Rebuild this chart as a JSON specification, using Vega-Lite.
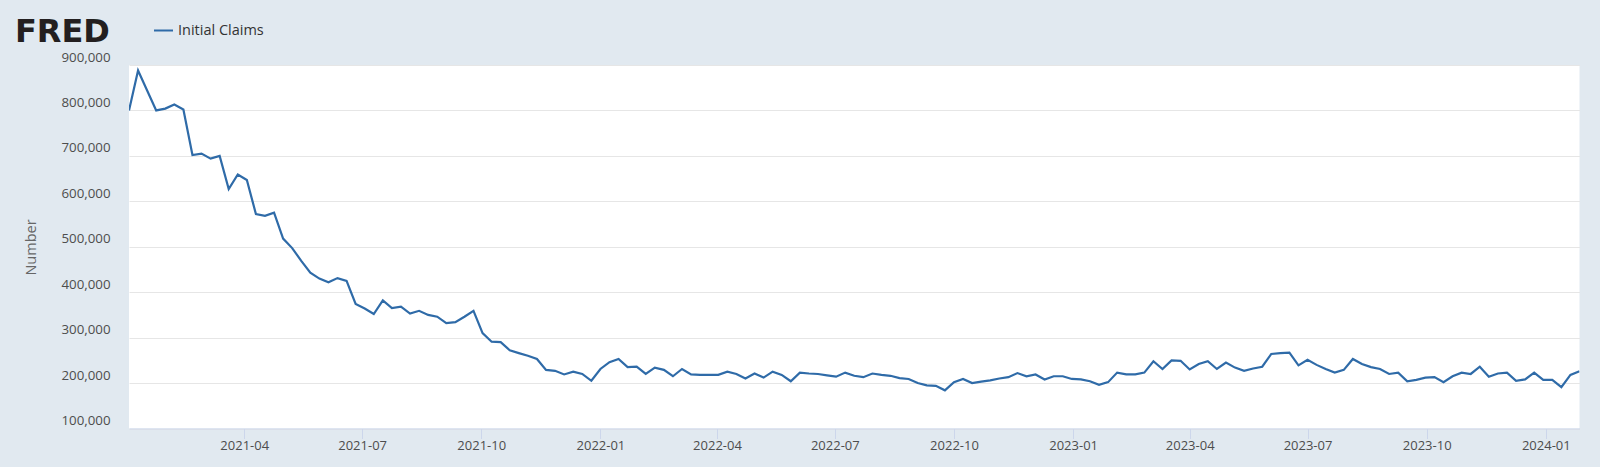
{"$schema":"https://vega.github.io/schema/vega-lite/v6.json","width":1450.5,"height":363.5,"autosize":{"type":"none"},"padding":{"left":129,"top":65,"right":20.5,"bottom":38.5},"background":"#e1e9f0","view":{"fill":"#ffffff","stroke":null},
"title":{"text":"FRED","anchor":"start","frame":"group","dx":-114,"offset":-29,"font":"DejaVu Sans","fontSize":32,"fontWeight":"bold","color":"#231f20"},
"data":{"values":[
{"date":"2021-01-02","claims":800000},{"date":"2021-01-09","claims":888000},{"date":"2021-01-16","claims":844000},{"date":"2021-01-23","claims":800000},{"date":"2021-01-30","claims":804000},
{"date":"2021-02-06","claims":813000},{"date":"2021-02-13","claims":802000},{"date":"2021-02-20","claims":702000},{"date":"2021-02-27","claims":705000},
{"date":"2021-03-06","claims":694000},{"date":"2021-03-13","claims":700000},{"date":"2021-03-20","claims":627000},{"date":"2021-03-27","claims":659000},
{"date":"2021-04-03","claims":647000},{"date":"2021-04-10","claims":572000},{"date":"2021-04-17","claims":568000},{"date":"2021-04-24","claims":575000},
{"date":"2021-05-01","claims":518000},{"date":"2021-05-08","claims":497000},{"date":"2021-05-15","claims":469000},{"date":"2021-05-22","claims":443000},{"date":"2021-05-29","claims":430000},
{"date":"2021-06-05","claims":422000},{"date":"2021-06-12","claims":431000},{"date":"2021-06-19","claims":425000},{"date":"2021-06-26","claims":374000},
{"date":"2021-07-03","claims":364000},{"date":"2021-07-10","claims":352000},{"date":"2021-07-17","claims":382000},{"date":"2021-07-24","claims":365000},{"date":"2021-07-31","claims":368000},
{"date":"2021-08-07","claims":353000},{"date":"2021-08-14","claims":359000},{"date":"2021-08-21","claims":350000},{"date":"2021-08-28","claims":346000},
{"date":"2021-09-04","claims":332000},{"date":"2021-09-11","claims":334000},{"date":"2021-09-18","claims":346000},{"date":"2021-09-25","claims":359000},
{"date":"2021-10-02","claims":310000},{"date":"2021-10-09","claims":291000},{"date":"2021-10-16","claims":290000},{"date":"2021-10-23","claims":272000},{"date":"2021-10-30","claims":266000},
{"date":"2021-11-06","claims":260000},{"date":"2021-11-13","claims":253000},{"date":"2021-11-20","claims":229000},{"date":"2021-11-27","claims":227000},
{"date":"2021-12-04","claims":219000},{"date":"2021-12-11","claims":225000},{"date":"2021-12-18","claims":220000},{"date":"2021-12-25","claims":205000},
{"date":"2022-01-01","claims":231000},{"date":"2022-01-08","claims":246000},{"date":"2022-01-15","claims":253000},{"date":"2022-01-22","claims":235000},{"date":"2022-01-29","claims":236000},
{"date":"2022-02-05","claims":220000},{"date":"2022-02-12","claims":234000},{"date":"2022-02-19","claims":229000},{"date":"2022-02-26","claims":215000},
{"date":"2022-03-05","claims":231000},{"date":"2022-03-12","claims":219000},{"date":"2022-03-19","claims":218000},{"date":"2022-03-26","claims":218000},
{"date":"2022-04-02","claims":218000},{"date":"2022-04-09","claims":225000},{"date":"2022-04-16","claims":220000},{"date":"2022-04-23","claims":210000},{"date":"2022-04-30","claims":221000},
{"date":"2022-05-07","claims":212000},{"date":"2022-05-14","claims":225000},{"date":"2022-05-21","claims":218000},{"date":"2022-05-28","claims":204000},
{"date":"2022-06-04","claims":223000},{"date":"2022-06-11","claims":221000},{"date":"2022-06-18","claims":220000},{"date":"2022-06-25","claims":217000},
{"date":"2022-07-02","claims":214000},{"date":"2022-07-09","claims":223000},{"date":"2022-07-16","claims":216000},{"date":"2022-07-23","claims":213000},{"date":"2022-07-30","claims":221000},
{"date":"2022-08-06","claims":218000},{"date":"2022-08-13","claims":216000},{"date":"2022-08-20","claims":211000},{"date":"2022-08-27","claims":209000},
{"date":"2022-09-03","claims":200000},{"date":"2022-09-10","claims":195000},{"date":"2022-09-17","claims":194000},{"date":"2022-09-24","claims":184000},
{"date":"2022-10-01","claims":202000},{"date":"2022-10-08","claims":209000},{"date":"2022-10-15","claims":200000},{"date":"2022-10-22","claims":203000},{"date":"2022-10-29","claims":206000},
{"date":"2022-11-05","claims":210000},{"date":"2022-11-12","claims":213000},{"date":"2022-11-19","claims":222000},{"date":"2022-11-26","claims":215000},
{"date":"2022-12-03","claims":219000},{"date":"2022-12-10","claims":208000},{"date":"2022-12-17","claims":215000},{"date":"2022-12-24","claims":215000},{"date":"2022-12-31","claims":209000},
{"date":"2023-01-07","claims":208000},{"date":"2023-01-14","claims":204000},{"date":"2023-01-21","claims":196000},{"date":"2023-01-28","claims":202000},
{"date":"2023-02-04","claims":223000},{"date":"2023-02-11","claims":219000},{"date":"2023-02-18","claims":219000},{"date":"2023-02-25","claims":223000},
{"date":"2023-03-04","claims":248000},{"date":"2023-03-11","claims":231000},{"date":"2023-03-18","claims":250000},{"date":"2023-03-25","claims":249000},
{"date":"2023-04-01","claims":230000},{"date":"2023-04-08","claims":242000},{"date":"2023-04-15","claims":248000},{"date":"2023-04-22","claims":231000},{"date":"2023-04-29","claims":245000},
{"date":"2023-05-06","claims":234000},{"date":"2023-05-13","claims":227000},{"date":"2023-05-20","claims":232000},{"date":"2023-05-27","claims":236000},
{"date":"2023-06-03","claims":264000},{"date":"2023-06-10","claims":266000},{"date":"2023-06-17","claims":267000},{"date":"2023-06-24","claims":239000},
{"date":"2023-07-01","claims":251000},{"date":"2023-07-08","claims":240000},{"date":"2023-07-15","claims":231000},{"date":"2023-07-22","claims":223000},{"date":"2023-07-29","claims":229000},
{"date":"2023-08-05","claims":253000},{"date":"2023-08-12","claims":242000},{"date":"2023-08-19","claims":235000},{"date":"2023-08-26","claims":231000},
{"date":"2023-09-02","claims":220000},{"date":"2023-09-09","claims":223000},{"date":"2023-09-16","claims":204000},{"date":"2023-09-23","claims":207000},{"date":"2023-09-30","claims":212000},
{"date":"2023-10-07","claims":213000},{"date":"2023-10-14","claims":202000},{"date":"2023-10-21","claims":215000},{"date":"2023-10-28","claims":223000},
{"date":"2023-11-04","claims":220000},{"date":"2023-11-11","claims":236000},{"date":"2023-11-18","claims":214000},{"date":"2023-11-25","claims":221000},
{"date":"2023-12-02","claims":223000},{"date":"2023-12-09","claims":205000},{"date":"2023-12-16","claims":208000},{"date":"2023-12-23","claims":223000},{"date":"2023-12-30","claims":207000},
{"date":"2024-01-06","claims":207000},{"date":"2024-01-13","claims":191000},{"date":"2024-01-20","claims":218000},{"date":"2024-01-27","claims":226000}
]},
"mark":{"type":"line","strokeWidth":2.2,"interpolate":"linear","clip":true},
"encoding":{
"x":{"field":"date","type":"temporal","scale":{"type":"utc","nice":false},"axis":{"title":null,"grid":false,"labelExpr":"utcFormat(datum.value,'%Y-%m')","values":[{"year":2021,"month":4,"date":1,"utc":true},{"year":2021,"month":7,"date":1,"utc":true},{"year":2021,"month":10,"date":1,"utc":true},{"year":2022,"month":1,"date":1,"utc":true},{"year":2022,"month":4,"date":1,"utc":true},{"year":2022,"month":7,"date":1,"utc":true},{"year":2022,"month":10,"date":1,"utc":true},{"year":2023,"month":1,"date":1,"utc":true},{"year":2023,"month":4,"date":1,"utc":true},{"year":2023,"month":7,"date":1,"utc":true},{"year":2023,"month":10,"date":1,"utc":true},{"year":2024,"month":1,"date":1,"utc":true}],"domainColor":"#ccd6eb","domainWidth":1,"tickColor":"#ccd6eb","tickSize":10,"tickWidth":1,"labelFont":"Open Sans","labelFontSize":13,"labelColor":"#4d4d4d","labelPadding":1,"labelOverlap":false,"labelFlush":false}},
"y":{"field":"claims","type":"quantitative","scale":{"domain":[100000,900000],"nice":false,"zero":false},"axis":{"title":"Number","values":[100000,200000,300000,400000,500000,600000,700000,800000,900000],"labelExpr":"format(datum.value,',')","domain":false,"ticks":false,"grid":true,"gridColor":"#e6e6e6","gridWidth":1,"labelFont":"Open Sans","labelFontSize":13.3,"labelColor":"#4d4d4d","labelPadding":19,"labelOffset":-8,"labelOverlap":false,"labelFlush":false,"titleFont":"Open Sans","titleFontSize":14.5,"titleFontWeight":"normal","titleColor":"#666666","titleX":-91,"titleY":182}},
"color":{"datum":"Initial Claims","type":"nominal","scale":{"range":["#2f6ba8"]},"legend":{"title":null,"orient":"none","legendX":24,"legendY":-45,"symbolType":"stroke","symbolSize":361,"symbolStrokeWidth":2,"labelFont":"Open Sans","labelFontSize":14.5,"labelColor":"#333333","labelOffset":4,"padding":0}}
}}
